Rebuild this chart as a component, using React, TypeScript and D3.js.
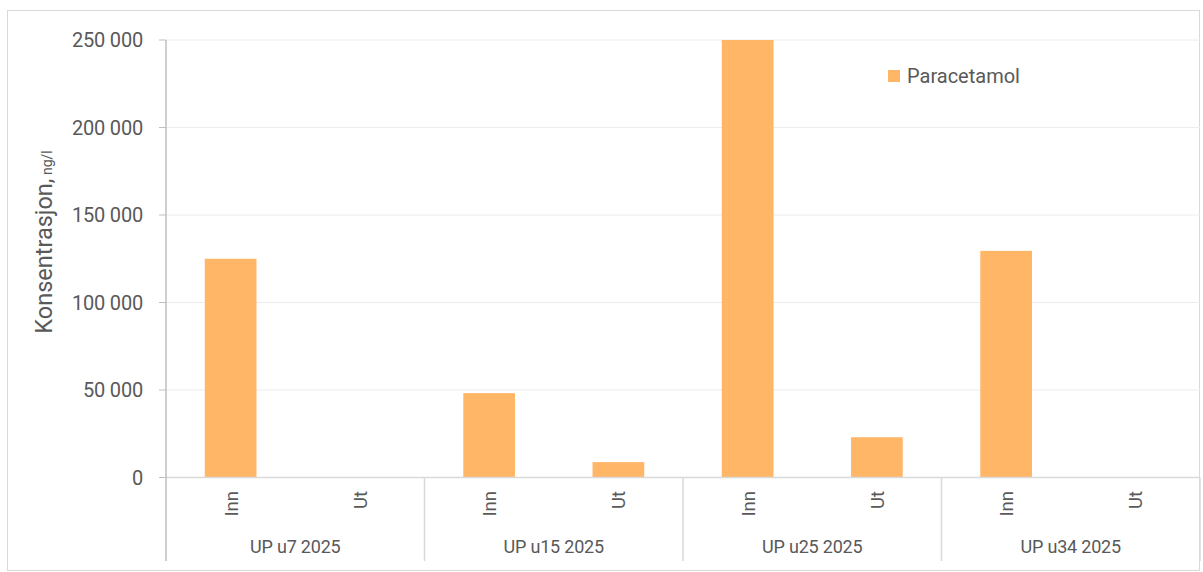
import React from "react";
import * as d3 from "d3";

const groups = ["UP u7 2025", "UP u15 2025", "UP u25 2025", "UP u34 2025"];
const subCats = ["Inn", "Ut"];
const paracetamol = [125000, 0, 48200, 8800, 250000, 23000, 129500, 0];
const yTicks = [0, 50000, 100000, 150000, 200000, 250000];
const seriesName = "Paracetamol";

const W = 1203, H = 572;
const left = 166, right = 1200, top = 40, bottom = 477.5;
const font = "Roboto, 'Liberation Sans', sans-serif";
const textColor = "#595959";

export default function App() {
  const y = d3.scaleLinear().domain([0, 250000]).range([bottom, top]);
  const xg = d3.scaleBand<string>().domain(groups).range([left, right]).padding(0);
  const xs = d3.scaleBand<string>().domain(subCats).range([0, xg.bandwidth()]).paddingInner(0.6).paddingOuter(0.3);
  const fmt = (v: number) => d3.format(",")(v).replace(/,/g, " ");
  const bars = paracetamol.map((v, i) => {
    const g = groups[Math.floor(i / 2)];
    const s = subCats[i % 2];
    return { g, s, v };
  });
  return (
    <svg width={W} height={H} style={{ position: "absolute", left: 0, top: 0, background: "#fff" }}>
      <rect x={7.5} y={10.5} width={1192} height={560} fill="#fff" stroke="#d9d9d9" />
      {yTicks.map((t) => (
        <g key={t}>
          {t > 0 && <line x1={left} x2={right} y1={y(t)} y2={y(t)} stroke="#ececec" strokeWidth={1} />}
          <line x1={159} x2={left} y1={y(t)} y2={y(t)} stroke="#bfbfbf" />
          <text x={143} y={y(t)} dy="0.35em" textAnchor="end" fontFamily={font} fontSize={20} letterSpacing={-0.2} fill={textColor}>
            {fmt(t)}
          </text>
        </g>
      ))}
      {bars.map((b, i) =>
        b.v > 0 ? (
          <rect
            key={i}
            x={(xg(b.g) as number) + (xs(b.s) as number)}
            width={xs.bandwidth()}
            y={y(b.v)}
            height={bottom - y(b.v)}
            fill="#FFB666"
          />
        ) : null
      )}
      <line x1={left} x2={right} y1={bottom} y2={bottom} stroke="#d9d9d9" strokeWidth={1.5} />
      <line x1={left} x2={left} y1={top} y2={561} stroke="#bfbfbf" strokeWidth={1.5} />
      {groups.map((g, gi) => (
        <g key={g}>
          {gi > 0 && <line x1={xg(g)} x2={xg(g)} y1={bottom} y2={561} stroke="#d9d9d9" strokeWidth={1.5} />}
          {subCats.map((s) => {
            const cx = (xg(g) as number) + (xs(s) as number) + xs.bandwidth() / 2;
            return (
              <text key={s} transform={`translate(${cx + 7},491) rotate(-90)`} textAnchor="end" fontFamily={font} fontSize={18.5} fill={textColor}>
                {s}
              </text>
            );
          })}
          <text x={(xg(g) as number) + xg.bandwidth() / 2} y={553} textAnchor="middle" fontFamily={font} fontSize={18} letterSpacing={-0.2} fill={textColor}>
            {g}
          </text>
        </g>
      ))}
      <line x1={right} x2={right} y1={bottom} y2={561} stroke="#d9d9d9" strokeWidth={1.5} />
      <text transform={`translate(52,242) rotate(-90)`} textAnchor="middle" fontFamily={font} fill={textColor}>
        <tspan fontSize={23.5}>Konsentrasjon,</tspan>
        <tspan fontSize={14}> ng/l</tspan>
      </text>
      <rect x={888} y={70} width={12} height={12} fill="#FFB666" />
      <text x={907} y={83} fontFamily={font} fontSize={20} fill={textColor}>
        {seriesName}
      </text>
    </svg>
  );
}
